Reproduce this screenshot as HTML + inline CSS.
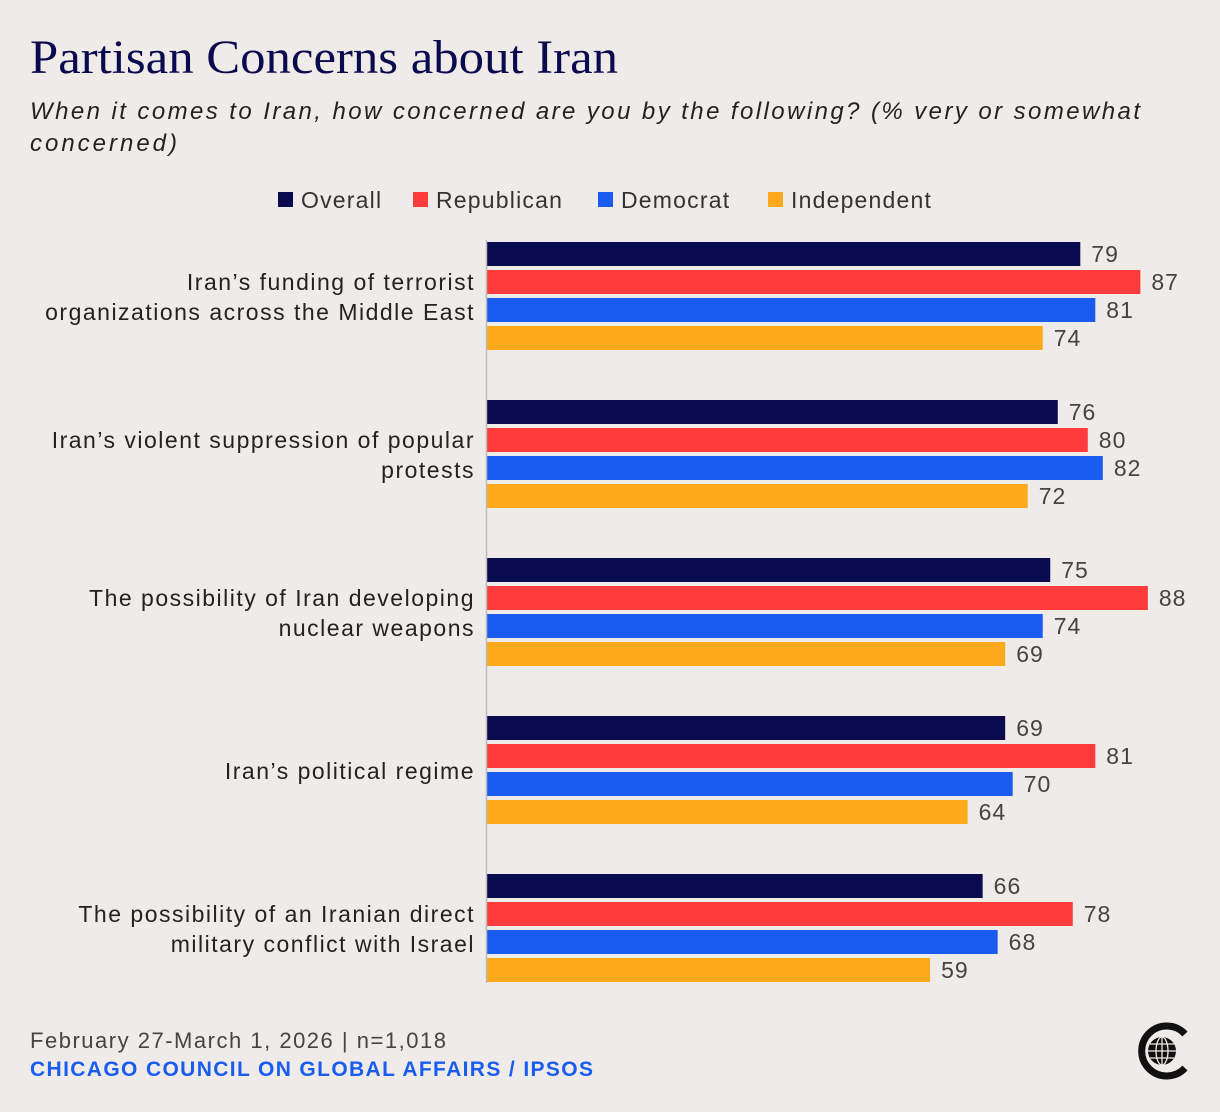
<!DOCTYPE html>
<html><head><meta charset="utf-8"><style>
html,body{margin:0;padding:0;background:#efebe8;}
body{width:1220px;height:1112px;overflow:hidden;position:relative;font-family:"Liberation Sans",sans-serif;}
</style></head><body>
<svg id="chart" width="1220" height="1112" xmlns="http://www.w3.org/2000/svg" style="position:absolute;left:0;top:0">
<rect width="1220" height="1112" fill="#efebe8"/>
<text x="30" y="73" font-family="Liberation Serif, serif" font-size="48" fill="#0a0a4f" textLength="588" lengthAdjust="spacingAndGlyphs">Partisan Concerns about Iran</text>
<text x="30" y="119" font-style="italic" font-size="24" fill="#222" textLength="1110" lengthAdjust="spacing">When it comes to Iran, how concerned are you by the following?  (% very or somewhat</text>
<text x="30" y="151" font-style="italic" font-size="24" fill="#222" textLength="147" lengthAdjust="spacing">concerned)</text>
<g id="legend"></g>
<g id="labels"></g>
<g id="bars"></g>
<line x1="486.5" y1="240" x2="486.5" y2="983" stroke="#bbb" stroke-width="1.5"/>
<text x="30" y="1048" font-size="22" fill="#444" textLength="416" lengthAdjust="spacing">February 27-March 1, 2026 | n=1,018</text>
<text x="30" y="1076" font-size="21" font-weight="bold" fill="#1a5cf0" textLength="563" lengthAdjust="spacing">CHICAGO COUNCIL ON GLOBAL AFFAIRS / IPSOS</text>
<g>
<path d="M1185 1034 A25 25 0 1 0 1185 1068" fill="none" stroke="#111" stroke-width="7"/>
<circle cx="1162" cy="1051" r="14" fill="#111"/>
<g stroke="#efebe8" stroke-width="1.3" fill="none">
<ellipse cx="1162" cy="1051" rx="6" ry="14"/>
<line x1="1148" y1="1051" x2="1176" y2="1051"/>
<line x1="1150" y1="1044" x2="1174" y2="1044"/>
<line x1="1150" y1="1058" x2="1174" y2="1058"/>
<line x1="1162" y1="1037" x2="1162" y2="1065"/>
</g>
</g>
</svg>
<script>
const series = ["Overall","Republican","Democrat","Independent"];
const colors = ["#0a0a4f","#ff3b3b","#1a5cf0","#ffaa1a"];
const categories = [
 ["Iran’s funding of terrorist","organizations across the Middle East"],
 ["Iran’s violent suppression of popular","protests"],
 ["The possibility of Iran developing","nuclear weapons"],
 ["Iran’s political regime"],
 ["The possibility of an Iranian direct","military conflict with Israel"]
];
const overall = [79,76,75,69,66];
const republican = [87,80,88,81,78];
const democrat = [81,82,74,70,68];
const independent = [74,72,69,64,59];
const values = [overall,republican,democrat,independent];
const NS="http://www.w3.org/2000/svg";
const x0=487, scale=7.51;
const xScale=v=>x0+v*scale;
const groupY=i=>242+i*158;
const barY=(i,s)=>groupY(i)+s*28;
function mk(t,a){const e=document.createElementNS(NS,t);for(const k in a)e.setAttribute(k,a[k]);return e;}
const leg=document.getElementById('legend');
const legX=[278,413,598,768];
series.forEach((s,j)=>{
 const r=mk('rect',{x:legX[j],y:192,width:15,height:15,fill:colors[j]});
 
 
 leg.appendChild(r);
 const t=mk('text',{x:legX[j]+23,y:208,'font-size':23,fill:'#333','letter-spacing':1.2});
 t.textContent=s;
 
 
 leg.appendChild(t);
});
const bars=document.getElementById('bars');
const labels=document.getElementById('labels');
categories.forEach((c,i)=>{
 const mid=groupY(i)+54;
 const startY = c.length===1 ? mid+9 : mid-6;
 c.forEach((line,k)=>{
  const t=mk('text',{x:475,y:startY+k*30,'font-size':23,fill:'#222','text-anchor':'end','letter-spacing':1.5});
  t.textContent=line;
  
  
  labels.appendChild(t);
 });
 values.forEach((arr,j)=>{
  const v=arr[i];
  const r=mk('rect',{x:x0,y:barY(i,j),width:xScale(v)-x0,height:24,fill:colors[j]});
  
  
  bars.appendChild(r);
  const t=mk('text',{x:xScale(v)+11,y:barY(i,j)+20,'font-size':23,fill:'#444','letter-spacing':1});
  t.textContent=v;
  
  
  bars.appendChild(t);
 });
});
</script>
</body></html>
